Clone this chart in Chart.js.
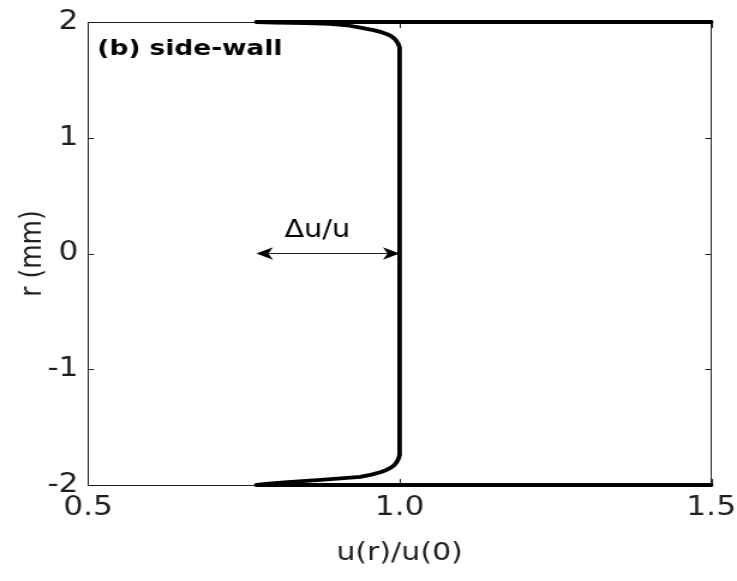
<!DOCTYPE html>
<html>
<head>
<meta charset="utf-8">
<script src="https://cdn.jsdelivr.net/npm/chart.js@4/dist/chart.umd.min.js"></script>
<style>
  html, body { margin: 0; padding: 0; background: #ffffff; }
  canvas { display: block; }
</style>
</head>
<body>
<canvas id="profile" width="614" height="581" style="width:737px;height:581px"></canvas>
<script>
// Normalised axial velocity u(r)/u(0) across the channel (side-wall case).
// The trace runs along the upper wall, down the profile, and back along the lower wall.
const radius = [
  2.0, 2.0, 1.995, 1.99, 1.984, 1.972, 1.952, 1.93, 1.912, 1.895, 1.875, 1.855, 1.835, 1.81, 1.78,
  0.0,
  -1.74, -1.775, -1.805, -1.83, -1.85, -1.87, -1.89, -1.91, -1.93, -1.945, -1.957, -1.975, -1.988, -2.0, -2.0
];
const velocity = [
  1.5, 0.77, 0.80, 0.85, 0.888, 0.915, 0.937, 0.958, 0.971, 0.980, 0.987, 0.992, 0.995, 0.998, 1.0,
  1.0,
  1.0, 0.998, 0.995, 0.991, 0.986, 0.979, 0.969, 0.955, 0.937, 0.90, 0.868, 0.82, 0.79, 0.77, 1.5
];

const xRange = [0.5, 1.5];
const yRange = [-2, 2];
const xTicks = [0.5, 1.0, 1.5];
const xTickLabels = ['0.5', '1.0', '1.5'];
const yTicks = [-2, -1, 0, 1, 2];
const yTickLabels = ['-2', '-1', '0', '1', '2'];

// Δu/u span marker and its caption
const arrowSpan = [0.77, 1.0];
const arrowLevel = [0];
const arrowLabel = 'Δu/u';
const arrowLabelPos = [0.868, 0.14];

const panelLabel = '(b) side-wall';
const panelLabelPos = [0.515, 1.715];

const INK = '#1f1f1f';

const points = radius.map((r, i) => ({ x: velocity[i], y: r }));

const boxAndMarks = {
  id: 'boxAndMarks',
  beforeDatasetsDraw(chart) {
    const { ctx, chartArea: a, scales: { x, y } } = chart;
    ctx.save();
    ctx.strokeStyle = INK;
    ctx.lineWidth = 1;
    ctx.strokeRect(Math.round(a.left) + 0.5, Math.round(a.top) + 0.5,
                   Math.round(a.right - a.left), Math.round(a.bottom - a.top));
    ctx.beginPath();
    x.ticks.forEach(t => {
      const px = Math.round(x.getPixelForValue(t.value)) + 0.5;
      ctx.moveTo(px, a.bottom); ctx.lineTo(px, a.bottom - 6);
      ctx.moveTo(px, a.top); ctx.lineTo(px, a.top + 6);
    });
    y.ticks.forEach(t => {
      const py = Math.round(y.getPixelForValue(t.value)) + 0.5;
      ctx.moveTo(a.left, py); ctx.lineTo(a.left + 5, py);
      ctx.moveTo(a.right, py); ctx.lineTo(a.right - 5, py);
    });
    ctx.stroke();
    ctx.restore();
  },
  afterDatasetsDraw(chart) {
    const { ctx, scales: { x, y } } = chart;
    ctx.save();
    // double-headed arrow
    const x0 = x.getPixelForValue(arrowSpan[0]);
    const x1 = x.getPixelForValue(arrowSpan[1]);
    const py = y.getPixelForValue(arrowLevel[0]);
    const L = 14, W = 6.3, N = 4;
    ctx.strokeStyle = INK;
    ctx.lineWidth = 1;
    ctx.beginPath();
    ctx.moveTo(x0 + L - N, py); ctx.lineTo(x1 - L + N, py);
    ctx.stroke();
    ctx.fillStyle = '#000';
    ctx.beginPath();
    ctx.moveTo(x0, py); ctx.lineTo(x0 + L, py - W); ctx.lineTo(x0 + L - N, py);
    ctx.lineTo(x0 + L, py + W); ctx.closePath();
    ctx.moveTo(x1, py); ctx.lineTo(x1 - L, py - W); ctx.lineTo(x1 - L + N, py);
    ctx.lineTo(x1 - L, py + W); ctx.closePath();
    ctx.fill();

    ctx.fillStyle = '#000';
    ctx.textBaseline = 'alphabetic';
    ctx.textAlign = 'center';
    ctx.font = '24px "DejaVu Sans"';
    ctx.fillText(arrowLabel, x.getPixelForValue(arrowLabelPos[0]), y.getPixelForValue(arrowLabelPos[1]));

    ctx.textAlign = 'left';
    ctx.font = 'bold 22px "DejaVu Sans"';
    ctx.fillText(panelLabel, x.getPixelForValue(panelLabelPos[0]), y.getPixelForValue(panelLabelPos[1]));
    ctx.restore();
  }
};

new Chart(document.getElementById('profile'), {
  type: 'scatter',
  data: {
    datasets: [{
      data: points,
      showLine: true,
      borderColor: '#000000',
      borderWidth: 3.8,
      borderJoinStyle: 'round',
      borderCapStyle: 'round',
      tension: 0,
      pointRadius: 0,
      pointHoverRadius: 0,
      clip: false
    }]
  },
  options: {
    responsive: false,
    devicePixelRatio: 1,
    animation: false,
    events: [],
    layout: { padding: { top: 22, right: 21.5, bottom: 0, left: 0 } },
    plugins: { legend: { display: false }, tooltip: { enabled: false } },
    scales: {
      x: {
        type: 'linear',
        min: xRange[0], max: xRange[1],
        afterBuildTicks: s => { s.ticks = xTicks.map(v => ({ value: v })); },
        afterFit: s => { s.height = 96; s.paddingLeft = 0; s.paddingRight = 0; },
        grid: { display: false, drawTicks: false },
        border: { display: false },
        ticks: {
          padding: 8,
          color: INK,
          font: { family: '"DejaVu Sans"', size: 26 },
          maxRotation: 0,
          callback: (v, i) => xTickLabels[i]
        },
        title: {
          display: true,
          text: 'u(r)/u(0)',
          color: INK,
          font: { family: '"DejaVu Sans"', size: 25 },
          padding: { top: 0, bottom: 13 }
        }
      },
      y: {
        type: 'linear',
        min: yRange[0], max: yRange[1],
        afterBuildTicks: s => { s.ticks = yTicks.map(v => ({ value: v })); },
        afterFit: s => { s.width = 73.3; s.paddingTop = 0; s.paddingBottom = 0; },
        grid: { display: false, drawTicks: false },
        border: { display: false },
        ticks: {
          padding: 8,
          color: INK,
          font: { family: '"DejaVu Sans"', size: 26 },
          callback: (v, i) => yTickLabels[i]
        },
        title: {
          display: true,
          text: 'r (mm)',
          color: INK,
          font: { family: '"DejaVu Sans"', size: 25 },
          padding: { top: 12.5, bottom: 0 }
        }
      }
    }
  },
  plugins: [boxAndMarks]
});
</script>
</body>
</html>
